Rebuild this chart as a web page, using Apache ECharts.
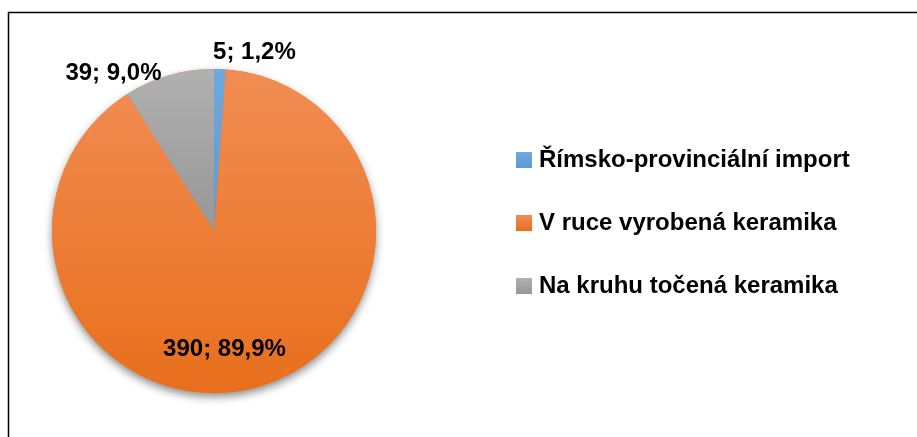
<!DOCTYPE html>
<html>
<head>
<meta charset="utf-8">
<script src="https://cdn.jsdelivr.net/npm/echarts@6/dist/echarts.min.js"></script>
<style>
  html, body { margin: 0; padding: 0; background: #fff; }
  #chart { width: 917px; height: 437px; }
</style>
</head>
<body>
<div id="chart"></div>
<script>
// data
const categories = ['Římsko-provinciální import', 'V ruce vyrobená keramika', 'Na kruhu točená keramika'];
const values = [5, 390, 39];
const percents = ['1,2%', '89,9%', '9,0%'];
const colorsTop = ['#6FA9DE', '#F18D53', '#B0B0B0'];
const colorsBottom = ['#5B9BD5', '#E86F1C', '#979797'];

const FONT = '"Liberation Sans", Arial, sans-serif';

const grad = (i) => ({
    type: 'linear', x: 0, y: 0, x2: 0, y2: 1,
    colorStops: [{ offset: 0, color: colorsTop[i] }, { offset: 1, color: colorsBottom[i] }]
});

// label shifts to sit where excel put them
const labelShift = [
    { dx: -12, dy: -12 },
    { dx: -10, dy: 37 },
    { dx: -1, dy: 3 }
];

const total = values.reduce((a, b) => a + b, 0);

const pieData = categories.map((name, i) => ({
    name: name,
    value: values[i],
    itemStyle: { color: grad(i) },
    label: { position: i == 1 ? 'inside' : 'outside' }
}));

const chart = echarts.init(document.getElementById('chart'), null, { renderer: 'canvas' });

const option = {
    animation: false,
    backgroundColor: '#fff',
    graphic: [{
        type: 'rect',
        shape: { x: 8.5, y: 12.5, width: 1000, height: 1000 },
        style: { fill: 'none', stroke: '#000', lineWidth: 1.5 },
        silent: true
    }],
    legend: {
        orient: 'vertical',
        left: 516,
        top: 148,
        padding: 0,
        itemWidth: 16,
        itemHeight: 16,
        itemGap: 39,
        icon: 'rect',
        data: categories.map((c, i) => ({ name: c, itemStyle: { color: grad(i) } })),
        textStyle: { fontFamily: FONT, fontWeight: 'bold', fontSize: 24, color: '#000', padding: [0, 0, 0, 2] }
    },
    series: [
        {
            // shadow under the whole pie
            type: 'pie',
            silent: true,
            center: [214, 231],
            radius: 162,
            z: 1,
            label: { show: false },
            labelLine: { show: false },
            itemStyle: { color: '#E86F1C', shadowBlur: 8, shadowOffsetY: 4, shadowColor: 'rgba(0,0,0,0.45)' },
            data: [{ name: 'total', value: total }]
        },
        {
            type: 'pie',
            center: [214, 231],
            radius: 162,
            startAngle: 90,
            clockwise: true,
            z: 2,
            avoidLabelOverlap: false,
            label: {
                show: true,
                fontFamily: FONT,
                fontWeight: 'bold',
                fontSize: 24,
                color: '#000',
                formatter: (p) => p.value + '; ' + percents[p.dataIndex]
            },
            labelLine: { show: false, length: 5, length2: 0 },
            labelLayout: (params) => labelShift[params.dataIndex],
            itemStyle: { borderWidth: 0 },
            data: pieData
        }
    ]
};
chart.setOption(option);
</script>
</body>
</html>
